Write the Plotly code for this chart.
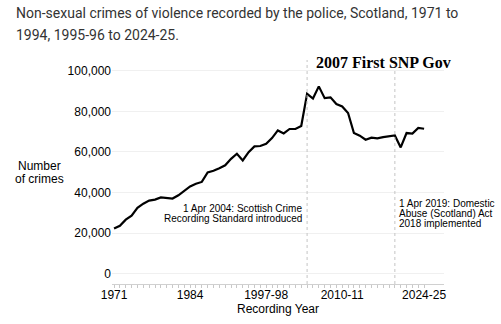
import plotly.graph_objects as go

years = [str(y) for y in range(1971, 1995)] + [f"{y}-{str(y + 1)[-2:]}" for y in range(1995, 2025)]
crimes = [22200, 23600, 26600, 28600, 32400, 34500, 36000, 36500, 37600, 37300,
          37000, 38600, 41000, 43000, 44300, 45200, 49900, 50700, 52000, 53400,
          56600, 59100, 55800, 59900, 62700, 62900, 64000, 66800, 70600, 69100,
          71300, 71300, 72800, 88600, 86300, 92300, 86500, 86900, 83600, 82400,
          79200, 69300, 68000, 66000, 67000, 66700, 67300, 67600, 68100, 62200,
          69300, 69000, 71800, 71400]
major_ticks = ["1971", "1984", "1997-98", "2010-11", "2024-25"]
y_ticks = [0, 20000, 40000, 60000, 80000, 100000]
event_years = ["2004-05", "2019-20"]
title_lines = ["Non-sexual crimes of violence recorded by the police, Scotland, 1971 to",
               "1994, 1995-96 to 2024-25."]
note1_lines = ["1 Apr 2004: Scottish Crime", "Recording Standard introduced"]
note2_lines = ["1 Apr 2019: Domestic", "Abuse (Scotland) Act", "2018 implemented"]

L, R, T, B = 112, 57, 60, 40
W, H = 501, 324
ph = H - T - B
pw = W - L - R

def py(pix):
    return (H - B - pix) / ph

def px(pix):
    return (pix - L) / pw

fig = go.Figure()
fig.add_trace(go.Scatter(x=years, y=crimes, mode="lines",
                         line=dict(color="black", width=2.2), hoverinfo="skip"))

shapes = []
for ev in event_years:
    i = years.index(ev)
    shapes.append(dict(type="line", xref="x", yref="paper", x0=i, x1=i, y0=0, y1=1,
                       line=dict(color="#c4c4c4", width=1, dash="dot")))

ann = []
fontA = "Liberation Sans, Arial, sans-serif"
for k, t in enumerate(title_lines):
    ann.append(dict(text=t, xref="paper", yref="paper", x=px(14), y=py(13 + 22 * k),
                    xanchor="left", yanchor="middle", showarrow=False,
                    font=dict(family="Roboto", size=14, color="#333333")))
for k, t in enumerate(["Number", "of crimes"]):
    ann.append(dict(text=t, xref="paper", yref="paper", x=px(39.5), y=py(166 + 12.5 * k),
                    xanchor="center", yanchor="middle", showarrow=False,
                    font=dict(family=fontA, size=12, color="black")))
i1 = years.index(event_years[0])
i2 = years.index(event_years[1])
ann.append(dict(text="<b>2007 First SNP Gov</b>", xref="x", yref="paper", x=i1, xshift=7,
                y=py(63), xanchor="left", yanchor="middle", showarrow=False,
                font=dict(family="Liberation Serif, Times New Roman, serif", size=16, color="black")))
for k, t in enumerate(note1_lines):
    ann.append(dict(text=t, xref="x", yref="paper", x=i1, xshift=-3, y=py(208.5 + 10.3 * k),
                    xanchor="right", yanchor="middle", showarrow=False,
                    font=dict(family=fontA, size=10, color="black")))
for k, t in enumerate(note2_lines):
    ann.append(dict(text=t, xref="x", yref="paper", x=i2, xshift=2, y=py(203 + 10 * k),
                    xanchor="left", yanchor="middle", showarrow=False,
                    font=dict(family=fontA, size=10, color="black")))

fig.update_layout(
    width=W, height=H, margin=dict(l=L, r=R, t=T, b=B),
    paper_bgcolor="white", plot_bgcolor="white", showlegend=False,
    shapes=shapes, annotations=ann,
    xaxis=dict(type="category", range=[-0.35, 56.4],
               tickvals=years, ticktext=[y if y in major_ticks else "" for y in years],
               ticks="outside", ticklen=3, tickcolor="#c8c8c8", tickwidth=1,
               showline=True, linecolor="#d0d0d0", linewidth=1, showgrid=False,
               ticklabelstandoff=-3,
               tickfont=dict(family=fontA, size=12, color="black"),
               title=dict(text="Recording Year", standoff=0,
                          font=dict(family=fontA, size=12, color="black"))),
    yaxis=dict(range=[-5100, 105300], tickvals=y_ticks,
               ticktext=[f"{v:,}" for v in y_ticks],
               showgrid=True, gridcolor="#f0f0f0", gridwidth=1, zeroline=False,
               showline=False, ticks="", ticklabelstandoff=0,
               tickfont=dict(family=fontA, size=12, color="black")),
)

fig.write_html("out.html")
